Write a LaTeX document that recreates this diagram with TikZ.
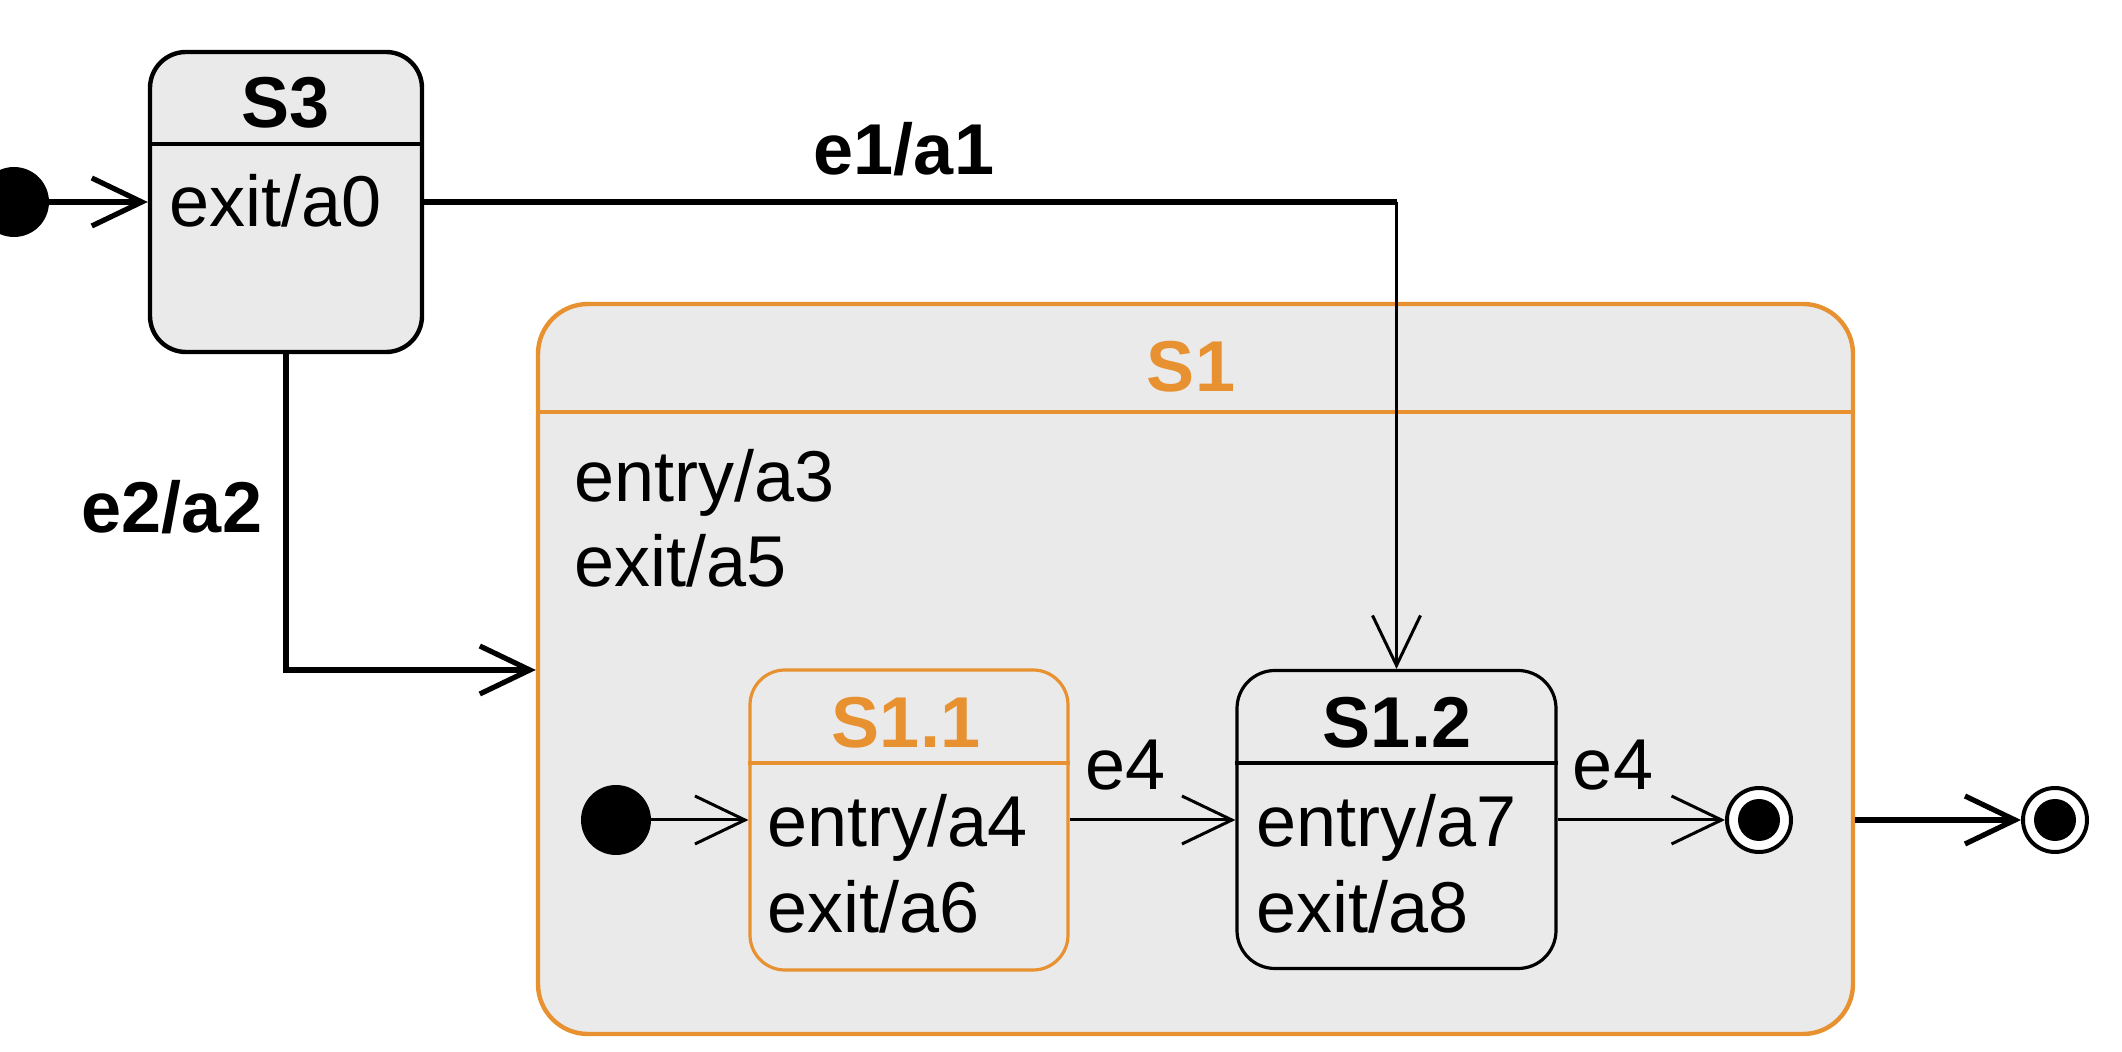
\documentclass[tikz,border=0pt]{standalone}
\usepackage{fontspec}
\setmainfont{Liberation Sans}
\usetikzlibrary{arrows.meta}
\definecolor{sorange}{RGB}{232,145,48}
\definecolor{sfill}{RGB}{234,234,234}
\tikzset{
  blackstate/.style={rectangle, draw=black, fill=sfill, inner sep=0pt},
  orangestate/.style={rectangle, draw=sorange, fill=sfill, inner sep=0pt},
  titletext/.style={anchor=base, inner sep=0pt, font=\fontsize{36}{42.5}\selectfont\bfseries},
  bodytext/.style={anchor=base west, inner sep=0pt, font=\fontsize{36}{42.5}\selectfont},
  labeltext/.style={anchor=base, inner sep=0pt, font=\fontsize{36}{42.5}\selectfont},
  boldlabel/.style={labeltext, font=\fontsize{36}{42.5}\selectfont\bfseries},
  initdot/.style={circle, fill=black, minimum size=35pt, inner sep=0pt},
  finalring/.style={circle, draw=black, line width=2pt, fill=white, minimum size=32pt, inner sep=0pt},
  finaldot/.style={circle, fill=black, minimum size=21pt, inner sep=0pt},
  barb/.style={-{Straight Barb[length=25pt,width=24pt]}},
  thickline/.style={line width=2.6pt, barb},
  thinline/.style={line width=1.5pt, barb},
}
\begin{document}
\begin{tikzpicture}[x=0.5pt,y=-0.5pt]
\useasboundingbox (0,0) rectangle (2122,1052);

% composite state S1
\node[orangestate, line width=2.2pt, minimum width=657.5pt, minimum height=365pt, rounded corners=25pt] (S1) at (1195.5,669) {};
\draw[sorange, line width=2pt] (S1.west |- 0,412) -- (S1.east |- 0,412);
\node[titletext, text=sorange] (S1t) at (1191,392) {S1};
\node[bodytext] (S1a) at (574,502) {entry/a3};
\node[bodytext] (S1b) at (574,587) {exit/a5};

% S3
\node[blackstate, line width=2.2pt, minimum width=136pt, minimum height=150pt, rounded corners=18pt] (S3) at (286,202) {};
\draw[black, line width=2.2pt] (S3.west |- 0,144) -- (S3.east |- 0,144);
\node[titletext] (S3t) at (286,128) {S3};
\node[bodytext] (S3a) at (169,227) {exit/a0};

% S1.1
\node[orangestate, line width=1.6pt, minimum width=159pt, minimum height=150pt, rounded corners=17.5pt] (S11) at (909,820) {};
\draw[sorange, line width=1.6pt] (S11.west |- 0,763) -- (S11.east |- 0,763);
\node[titletext, text=sorange] (S11t) at (906,748) {S1.1};
\node[bodytext] (S11a) at (767,847) {entry/a4};
\node[bodytext] (S11b) at (767,933) {exit/a6};

% S1.2
\node[blackstate, line width=1.6pt, minimum width=159.5pt, minimum height=149pt, rounded corners=19pt] (S12) at (1396.5,819.5) {};
\draw[black, line width=1.6pt] (S12.west |- 0,763) -- (S12.east |- 0,763);
\node[titletext] (S12t) at (1397,748) {S1.2};
\node[bodytext] (S12a) at (1256,847) {entry/a7};
\node[bodytext] (S12b) at (1256,933) {exit/a8};

% pseudo states
\node[initdot] (init0) at (14,202) {};
\node[initdot] (init1) at (616,820) {};
\node[finalring] (fin1) at (1759,820) {};
\node[finaldot] (fin1d) at (fin1) {};
\node[finalring] (fin2) at (2055,820) {};
\node[finaldot] (fin2d) at (fin2) {};

% connectors
\draw[thickline] (init0) -- (S3.west);
\coordinate (c1) at (S12.north |- S3.east);
\draw[line width=3.2pt] (S3.east) -- (c1);
\draw[thinline] (c1) -- (S12.north);
\node[boldlabel] (l1) at (904,175) {e1/a1};

\coordinate (c2) at (286,670);
\draw[thickline] (S3.south) -- (c2) -- (c2 -| S1.west);
\node[boldlabel] (l2) at (172,533) {e2/a2};

\draw[thinline] (init1) -- (S11.west);
\draw[thinline] (S11.east |- init1) -- (S12.west |- init1);
\node[labeltext] (l3) at (1126,790) {e4};
\draw[thinline] (S12.east |- fin1) -- (fin1);
\node[labeltext] (l4) at (1613,790) {e4};
\draw[thickline] (S1.east |- fin2) -- (fin2);
\end{tikzpicture}
\end{document}
